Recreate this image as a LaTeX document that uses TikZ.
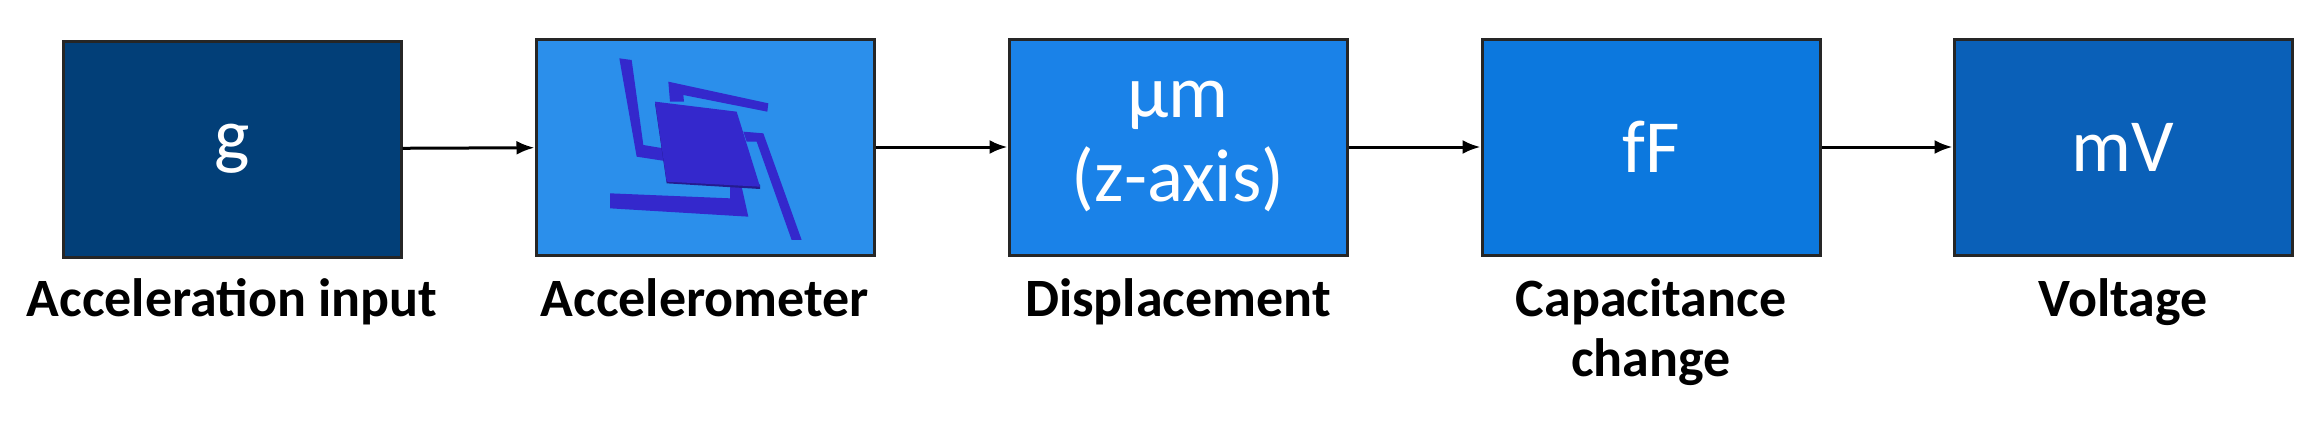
\documentclass[tikz,border=0pt]{standalone}
\usetikzlibrary{arrows.meta}
\usepackage{fontspec}
\setmainfont{Carlito}
\begin{document}
\begin{tikzpicture}[x=1pt,y=-1pt,
 box/.style={draw=black!85,line width=3pt,minimum width=338pt,minimum height=216pt,inner sep=0,text=white,font=\fontsize{75}{84}\selectfont,align=center},
 lab/.style={font=\bfseries\fontsize{54}{60}\selectfont,align=center,anchor=north},
 arr/.style={-{Latex[length=18pt,width=14pt]},line width=3pt},
 mems/.style={fill=mem,draw=none}]
\definecolor{c1}{HTML}{023F78}\definecolor{c2}{HTML}{2B8FEB}\definecolor{c3}{HTML}{1A82E8}
\definecolor{c4}{HTML}{0C78DE}\definecolor{c5}{HTML}{0A60B8}\definecolor{mem}{HTML}{3428CC}
\useasboundingbox (0,0) rectangle (2318,423);
\node[box,fill=c1] (b1) at (232,149) {g};
\node[box,fill=c2] (b2) at (705,147) {};
\node[box,fill=c3] (b3) at (1178,147) {µm\\(z-axis)};
\node[box,fill=c4] (b4) at (1651,147) {fF};
\node[box,fill=c5] (b5) at (2123,147) {mV};
\foreach \a/\b in {b1/b2,b2/b3,b3/b4,b4/b5}\draw[arr] (\a) -- (\b);
\node[lab] (l1) at (232,275) {Acceleration input};
\node[lab] (l2) at (705,275) {Accelerometer};
\node[lab] (l3) at (1178,275) {Displacement};
\node[lab] (l4) at (1651,275) {Capacitance\\change};
\node[lab] (l5) at (2123,275) {Voltage};
\begin{scope}[shift={(530,35)},scale=1/3]
\fill[mem] (268,70)--(305,75)--(340,330)--(400,340)--(405,378)--(320,365)--cycle;
\fill[mem] (415,140)--(715,205)--(712,230)--(460,180)--(462,200)--(420,200)--cycle;
\fill[mem] (640,290)--(700,295)--(815,615)--(785,615)--(680,320)--(650,320)--cycle;
\fill[mem] (240,475)--(600,490)--(600,450)--(635,455)--(655,545)--(240,520)--cycle;
\fill[mem!70!black] (375,205)--(410,445)--(690,462)--(690,450)--cycle;
\fill[mem] (375,200)--(620,230)--(690,455)--(410,440)--cycle;
\end{scope}
\end{tikzpicture}
\end{document}
